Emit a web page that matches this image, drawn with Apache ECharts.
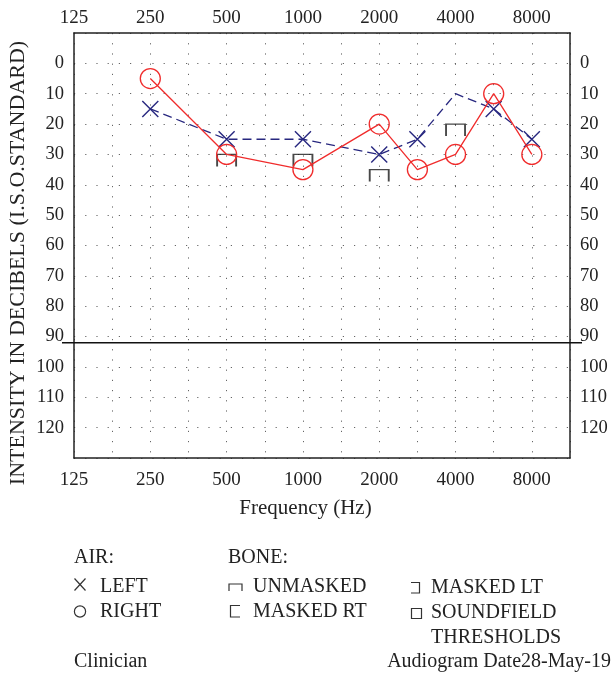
<!DOCTYPE html>
<html>
<head>
<meta charset="utf-8">
<script src="https://cdn.jsdelivr.net/npm/echarts@6/dist/echarts.min.js"></script>
<style>
html,body{margin:0;padding:0;background:#fff;}
#chart{width:611px;height:678px;}
</style>
</head>
<body>
<div id="chart"></div>
<script>
// Half-octave audiometric frequency positions (category axis)
const frequencies = ['125','180','250','375','500','750','1000','1500','2000','3000','4000','6000','8000','12000'];
// Frequencies that carry a tick label
const tickLabels = ['125','250','500','1000','2000','4000','8000'];
// dB tick labels
const dbTicks = [0,10,20,30,40,50,60,70,80,90,100,110,120];

// Air conduction, left ear (blue X, dashed)
const leftFreq = ['250','500','1000','2000','3000','4000','6000','8000'];
const leftDb   = [15, 25, 25, 30, 25, 10, 15, 25];
const leftNoMarker = ['4000'];
// Air conduction, right ear (red O, solid)
const rightFreq = ['250','500','1000','2000','3000','4000','6000','8000'];
const rightDb   = [5, 30, 35, 20, 35, 30, 10, 30];
// Bone conduction, unmasked
const boneFreq = ['500','1000','2000','4000'];
const boneDb   = [30, 30, 35, 20];
// Reference line level
const refLineDb = 92;

const FONT = '"Liberation Serif", "Times New Roman", serif';
const TXT = '#222';
const BLUE = '#27277f';
const RED = '#f02c2c';

const chart = echarts.init(document.getElementById('chart'));

const xLabel = {
  show: true,
  interval: 0,
  fontFamily: FONT, fontSize: 19, color: TXT,
  formatter: v => tickLabels.indexOf(v) >= 0 ? v : ''
};
const dotX = {show: true, interval: 0, lineStyle: {color: '#666', width: 1, type: [1.2, 9]}};
const yLabelFmt = v => dbTicks.indexOf(v) >= 0 ? String(v) : '';

const option = {
  animation: false,
  backgroundColor: '#fff',
  grid: {left: 74, right: 41, top: 33, bottom: 220, containLabel: false},
  xAxis: [
    {
      type: 'category', data: frequencies, boundaryGap: false, position: 'bottom',
      axisLine: {show: true, onZero: false, lineStyle: {color: '#222', width: 1.5}},
      axisTick: {show: false},
      axisLabel: Object.assign({margin: 13}, xLabel),
      splitLine: dotX
    },
    {
      type: 'category', data: frequencies, boundaryGap: false, position: 'top',
      axisLine: {show: true, onZero: false, lineStyle: {color: '#222', width: 1.5}},
      axisTick: {show: false},
      axisLabel: Object.assign({margin: 5}, xLabel),
      splitLine: {show: false}
    }
  ],
  yAxis: [
    {
      type: 'value', inverse: true, min: -10, max: 130, interval: 10, position: 'left',
      axisLine: {show: true, onZero: false, lineStyle: {color: '#222', width: 1.5}},
      axisTick: {show: false},
      axisLabel: {margin: 10, fontFamily: FONT, fontSize: 18.5, color: TXT, formatter: yLabelFmt},
      splitLine: {show: true, lineStyle: {color: '#666', width: 1, type: [1.2, 10]}}
    },
    {
      type: 'value', inverse: true, min: -10, max: 130, interval: 10, position: 'right',
      axisLine: {show: true, onZero: false, lineStyle: {color: '#222', width: 1.5}},
      axisTick: {show: false},
      axisLabel: {margin: 10, fontFamily: FONT, fontSize: 18.5, color: TXT, formatter: yLabelFmt},
      splitLine: {show: false}
    }
  ],
  series: [
    {
      name: 'Left', type: 'line',
      data: leftFreq.map((f, i) => leftNoMarker.indexOf(f) >= 0
        ? {value: [f, leftDb[i]], symbol: 'none'}
        : [f, leftDb[i]]),
      symbol: 'path://M0,0 L10,10 M10,0 L0,10',
      symbolSize: 16,
      itemStyle: {color: 'rgba(0,0,0,0)', borderColor: BLUE, borderWidth: 1.4},
      lineStyle: {color: BLUE, width: 1.3, type: [9, 5]},
      z: 3
    },
    {
      name: 'Right', type: 'line',
      data: rightFreq.map((f, i) => [f, rightDb[i]]),
      symbol: 'circle',
      symbolSize: 20,
      itemStyle: {color: 'rgba(0,0,0,0)', borderColor: RED, borderWidth: 1.3},
      lineStyle: {color: RED, width: 1.3},
      z: 4
    },
    {
      name: 'Bone unmasked', type: 'scatter',
      data: boneFreq.map((f, i) => [f, boneDb[i]]),
      symbol: 'path://M0,10 L0,0 L10,0 L10,10',
      symbolSize: [19, 12],
      symbolOffset: [0, 6],
      itemStyle: {color: 'rgba(0,0,0,0)', borderColor: '#1a1a1a', borderWidth: 1.5},
      z: 2
    }
  ]
};
chart.setOption(option);

// Reference line, extending slightly beyond the plot frame
const yRef = chart.convertToPixel({yAxisIndex: 0}, refLineDb);
const xL = chart.convertToPixel({xAxisIndex: 0}, frequencies[0]);
const xR = chart.convertToPixel({xAxisIndex: 0}, frequencies[frequencies.length - 1]);

function txt(x, y, s, align, size) {
  return {type: 'text', x: x, y: y, style: {text: s, fill: TXT, font: (size || 20) + 'px ' + FONT,
    textAlign: align || 'left', textVerticalAlign: 'middle'}};
}
function pl(points) {
  return {type: 'polyline', shape: {points: points}, style: {stroke: '#333', lineWidth: 1.2, fill: null}};
}

chart.setOption({
  graphic: [
    {type: 'line', shape: {x1: xL - 12, y1: yRef, x2: xR + 12, y2: yRef},
     style: {stroke: '#111', lineWidth: 1.5}, z: 10},
    {type: 'text', x: 18, y: 263, rotation: Math.PI / 2,
     style: {text: 'INTENSITY IN DECIBELS (I.S.O.STANDARD)', fill: TXT, font: '22px ' + FONT,
       textAlign: 'center', textVerticalAlign: 'middle'}},
    txt(305.5, 508, 'Frequency (Hz)', 'center', 21),
    txt(74, 558, 'AIR:'),
    pl([[74.5, 578.5], [85.5, 590.5]]), pl([[85.5, 578.5], [74.5, 590.5]]),
    txt(100, 587, 'LEFT'),
    {type: 'circle', shape: {cx: 80, cy: 611.5, r: 5.6}, style: {stroke: '#333', lineWidth: 1.2, fill: null}},
    txt(100, 612, 'RIGHT'),
    txt(228, 558, 'BONE:'),
    pl([[229, 591], [229, 584], [242, 584], [242, 591]]),
    txt(253, 587, 'UNMASKED'),
    pl([[240, 605.5], [230.5, 605.5], [230.5, 617], [240, 617]]),
    txt(253, 612, 'MASKED RT'),
    pl([[411, 582.5], [419.5, 582.5], [419.5, 593], [411, 593]]),
    txt(431, 588, 'MASKED LT'),
    {type: 'rect', shape: {x: 411.5, y: 608.5, width: 10, height: 10}, style: {stroke: '#333', lineWidth: 1.2, fill: null}},
    txt(431, 613, 'SOUNDFIELD'),
    txt(431, 638, 'THRESHOLDS'),
    txt(74, 662, 'Clinician'),
    txt(611, 662, 'Audiogram Date28-May-19', 'right')
  ]
});
</script>
</body>
</html>
